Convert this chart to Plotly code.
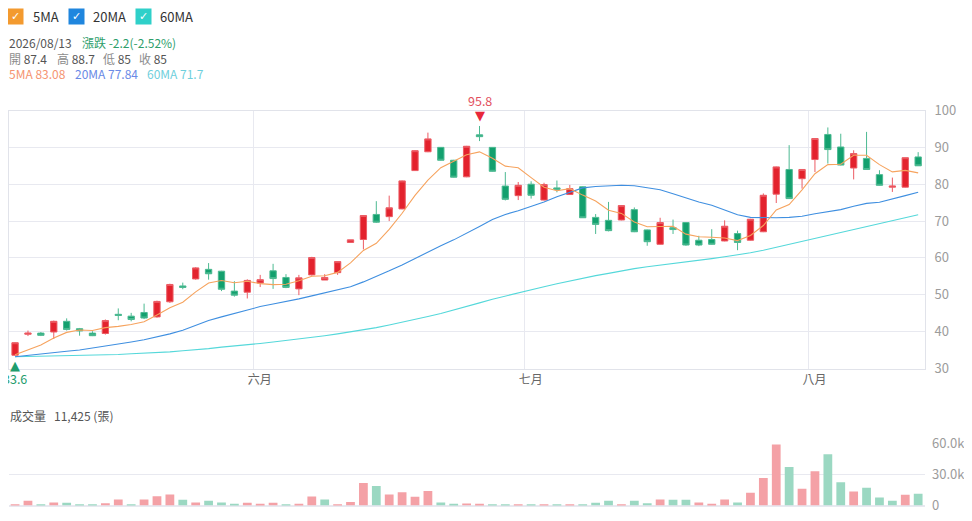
import plotly.graph_objects as go

# --- données (71 séances, dernière = 2026/08/13) ---
last_date = "2026/08/13"

open_ = [33.6, 39.3, 39.6, 39.9, 42.8, 40.8, 39.6, 39.5, 44.7, 44.2,
         45.2, 44.0, 48.1, 52.4, 54.3, 56.9, 56.4, 51.0, 50.7, 53.2,
         56.5, 54.7, 51.6, 55.4, 54.0, 56.0, 64.2, 65.0, 71.8, 71.2,
         73.3, 83.7, 88.8, 90.0, 86.5, 82.0, 93.4, 90.0, 79.5, 76.9,
         80.0, 75.7, 79.0, 77.2, 79.3, 71.0, 70.2, 70.3, 73.1, 67.6,
         63.7, 68.2, 69.6, 64.8, 65.0, 64.6, 66.6, 64.8, 67.1, 77.3,
         84.0, 81.5, 86.7, 93.5, 90.1, 84.4, 87.0, 82.6, 79.2, 79.2,
         87.4]
high = [37.1, 40.3, 39.9, 43.0, 43.6, 41.0, 40.1, 43.3, 46.3, 45.1,
        47.6, 48.4, 53.0, 53.3, 57.5, 58.6, 56.5, 53.7, 54.2, 55.4,
        58.4, 55.6, 55.4, 60.3, 55.6, 59.0, 64.9, 71.6, 75.4, 76.9,
        81.0, 89.2, 94.0, 90.1, 86.6, 90.4, 95.8, 90.1, 83.3, 80.6,
        80.8, 80.4, 81.0, 79.8, 79.4, 71.9, 75.2, 74.3, 73.7, 67.7,
        70.9, 70.4, 69.7, 66.0, 67.8, 70.2, 67.4, 70.6, 77.5, 84.8,
        90.6, 84.1, 92.5, 95.4, 93.7, 89.2, 94.2, 83.8, 81.8, 87.2,
        88.7]
low = [33.6, 38.8, 38.8, 38.0, 40.3, 38.9, 38.8, 39.2, 43.1, 42.8,
       43.4, 43.8, 47.8, 51.5, 54.1, 54.1, 51.0, 49.5, 49.0, 52.1,
       51.6, 51.8, 49.9, 55.2, 54.0, 55.4, 64.2, 62.3, 69.5, 70.0,
       73.2, 83.6, 88.7, 86.4, 81.8, 81.9, 91.7, 83.4, 75.6, 75.7,
       76.1, 75.6, 77.8, 77.1, 70.9, 66.5, 67.2, 70.2, 67.0, 63.3,
       63.6, 66.5, 63.3, 63.2, 63.6, 64.5, 62.1, 64.7, 67.0, 74.9,
       76.0, 78.8, 83.3, 85.6, 85.1, 81.3, 83.9, 79.6, 77.9, 79.1,
       85.0]
close = [37.0, 39.6, 39.0, 42.8, 40.6, 40.2, 38.9, 43.0, 44.4, 43.3,
         43.7, 48.2, 52.8, 52.0, 57.3, 55.7, 51.5, 49.9, 53.9, 54.1,
         54.4, 52.0, 54.6, 60.1, 54.7, 59.0, 64.9, 71.5, 69.7, 73.6,
         80.9, 89.1, 92.3, 86.5, 81.9, 90.3, 92.9, 83.5, 75.9, 79.7,
         77.0, 79.9, 78.6, 78.8, 70.9, 69.1, 67.4, 74.2, 67.1, 64.4,
         69.6, 67.7, 63.5, 63.5, 63.7, 68.6, 64.2, 70.5, 77.0, 84.7,
         76.1, 84.0, 92.4, 89.4, 85.2, 88.3, 84.0, 79.7, 79.5, 87.2,
         85.0]

ma5 = [33.7, 35.0, 36.4, 38.3, 39.80, 40.44, 40.30, 41.10, 41.42, 41.96,
       42.66, 44.52, 46.48, 48.00, 50.80, 53.20, 53.86, 53.28, 53.66, 53.02,
       52.76, 52.86, 53.80, 55.04, 55.16, 56.08, 58.66, 62.04, 63.96, 67.74,
       72.12, 76.96, 81.12, 84.48, 86.14, 88.02, 88.78, 87.02, 84.90, 84.46,
       81.80, 79.20, 78.22, 78.80, 77.04, 75.46, 72.96, 72.08, 69.74, 68.44,
       68.54, 68.60, 66.46, 65.74, 65.60, 65.40, 64.70, 66.10, 68.80, 73.00,
       74.50, 78.46, 82.84, 85.32, 85.42, 87.86, 87.86, 85.32, 83.34, 83.74,
       83.08]
ma20 = [33.2, 33.6, 34.0, 34.4, 34.7, 35.0, 35.5, 36.0, 36.6, 37.2,
        37.8, 38.5, 39.4, 40.4, 41.7, 43.0, 44.0, 45.0, 46.0, 46.8,
        47.5, 48.1, 48.9, 49.7, 50.6, 51.4, 52.2, 53.5, 54.9, 56.5,
        58.1, 59.9, 61.7, 63.3, 64.9, 66.6, 68.5, 70.4, 71.8, 72.8,
        73.9, 75.2, 76.6, 77.9, 79.0, 79.4, 79.6, 79.7, 79.6, 79.1,
        78.5, 77.4, 76.2, 75.2, 74.3, 73.0, 71.7, 71.0, 70.9, 70.9,
        71.0, 71.3, 72.0, 72.5, 73.1, 74.0, 74.8, 75.1, 75.9, 76.9,
        77.84]
ma60 = [33.2, 33.25, 33.3, 33.4, 33.45, 33.5, 33.6, 33.7, 33.8, 34.0,
        34.1, 34.3, 34.5, 34.8, 35.0, 35.4, 35.8, 36.1, 36.5, 36.8,
        37.2, 37.6, 38.0, 38.4, 38.9, 39.4, 39.9, 40.5, 41.1, 41.8,
        42.5, 43.3, 44.1, 44.9, 45.8, 46.8, 47.8, 48.8, 49.7, 50.6,
        51.4, 52.2, 53.0, 53.8, 54.5, 55.2, 55.8, 56.5, 57.1, 57.6,
        58.0, 58.4, 58.8, 59.3, 59.8, 60.3, 60.8, 61.4, 62.1, 62.9,
        63.7, 64.6, 65.4, 66.3, 67.1, 67.9, 68.7, 69.5, 70.2, 70.9,
        71.7]

volume = [1000, 4600, 1000, 2900, 2600, 1000, 500, 2300, 5900, 1300,
          5900, 9100, 10800, 5500, 2900, 4600, 2900, 1600, 2600, 1600,
          2600, 1300, 1600, 8800, 5900, 1300, 3300, 21800, 18900, 10800,
          13000, 8500, 14000, 2900, 1600, 2000, 1600, 1300, 1000, 700,
          700, 700, 700, 1000, 1000, 2600, 4600, 1300, 4600, 2300,
          5900, 5500, 5500, 2900, 1600, 5900, 2900, 12400, 26700, 59300,
          37500, 16300, 33300, 49900, 22500, 13700, 17300, 7800, 4600, 10400,
          11425]

# limites de mois (entre deux séances)
month_pos = [18.5, 39.5, 61.5]
month_labels = ["六月", "七月", "八月"]

# --- styles ---
OFF = 8                     # marge du <body> de la page
W, H = 972 - OFF, 521 - OFF
L, R, T, B = 1, 47, 12, 12
RED, RED_W = "#e3222d", "#ec5c64"
GREEN, GREEN_W = "#13a06e", "#4dba92"
VOL_RED = "#f4a1a6"
VOL_GREEN = "#9bd8c2"
C5, C20, C60 = "#f6a35e", "#3f8fe0", "#55d8da"
GRID = "#e8e9f0"
FONT = "Noto Sans CJK TC"

x = list(range(len(close)))


def px(v):
    # position en pixels de la fenêtre -> coordonnée paper
    return (v - OFF - L) / (W - L - R)


def py(v):
    return (H - B - (v - OFF)) / (H - T - B)


fig = go.Figure()

fig.add_trace(go.Candlestick(
    x=x, open=open_, high=high, low=low, close=close,
    increasing=dict(line=dict(color=RED_W, width=1), fillcolor=RED),
    decreasing=dict(line=dict(color=GREEN_W, width=1), fillcolor=GREEN),
    whiskerwidth=0, hoverinfo="skip", xaxis="x", yaxis="y"))

for ma, col in [(ma60, C60), (ma20, C20), (ma5, C5)]:
    fig.add_trace(go.Scatter(x=x, y=ma, mode="lines", line=dict(color=col, width=1.1),
                             hoverinfo="skip", xaxis="x", yaxis="y"))

# couleur du volume : clôture vs clôture précédente
vol_colors = []
for i in range(len(close)):
    ref = close[i - 1] if i > 0 else open_[i]
    vol_colors.append(VOL_RED if close[i] >= ref else VOL_GREEN)

fig.add_trace(go.Bar(x=x, y=volume, marker=dict(color=vol_colors, line=dict(width=0)),
                     width=0.68, hoverinfo="skip", xaxis="x2", yaxis="y2"))

xr = [-0.47, len(close) - 0.47]
fig.update_layout(
    width=W, height=H, margin=dict(l=L, r=R, t=T, b=B, autoexpand=False),
    paper_bgcolor="white", plot_bgcolor="white", showlegend=False,
    font=dict(family=FONT, color="#555"),
    xaxis=dict(domain=[0, 1], range=xr, anchor="y", tickvals=month_pos, ticktext=month_labels,
               ticklabelshift=6, showgrid=True, gridcolor=GRID, ticks="", zeroline=False,
               showline=True, mirror=True, linecolor="#e1e3ea",
               tickfont=dict(size=12, color="#666"), rangeslider=dict(visible=False)),
    yaxis=dict(domain=[py(368.5), py(110.5)], range=[30, 100], dtick=10, side="right",
               anchor="x", showgrid=True, gridcolor=GRID, ticks="", zeroline=False,
               showline=True, mirror=True, linecolor="#e1e3ea", ticklabelstandoff=6,
               tickfont=dict(size=13, color="#9c9c9c")),
    xaxis2=dict(domain=[0, 1], range=xr, anchor="y2", matches="x", showticklabels=False,
                showgrid=False, showline=False, zeroline=False),
    yaxis2=dict(domain=[py(505.5), py(443.3)], range=[0, 60500], side="right", anchor="x2",
                tickvals=[0, 30000, 60000], ticktext=["0", "30.0k", "60.0k"],
                showgrid=True, gridcolor=GRID, ticks="", zeroline=True, zerolinecolor=GRID,
                showline=False, ticklabelstandoff=6, tickfont=dict(size=13, color="#9c9c9c")),
)

ann = []


def text(xp, yp, s, color="#555", size=12, family=FONT):
    ann.append(dict(xref="paper", yref="paper", x=px(xp), y=py(yp), text=s, showarrow=False,
                    xanchor="left", yanchor="middle", font=dict(size=size, color=color, family=family)))


# cases à cocher des moyennes
for bx, tx, col, lab in [(15.3, 30.5, "#f39a2f", "5MA"), (76.3, 90.5, "#1f86de", "20MA"),
                         (143.3, 157.5, "#2fd0c9", "60MA")]:
    ann.append(dict(xref="paper", yref="paper", x=px(bx), y=py(16.2), text="✓", showarrow=False,
                    xanchor="center", yanchor="middle", bgcolor=col, width=15, height=15, borderpad=0,
                    font=dict(size=11, color="white", family="DejaVu Sans")))
    text(tx, 16.2, lab, "#333", 13)

chg = close[-1] - close[-2]
pct = chg / close[-2] * 100
text(7, 42.7, last_date, "#555")
text(80, 42.7, f"漲跌 {chg:.1f}({pct:.2f}%)", "#2e9e6b")
for xp, lab, val in [(7, "開", open_[-1]), (55, "高", high[-1]), (101, "低", low[-1]), (136.5, "收", close[-1])]:
    text(xp, 59, f"<span style='color:#8c8c8c'>{lab}</span> {val:g}", "#555")
text(7, 73.5, f"5MA {ma5[-1]:g}", "#f59470")
text(72.5, 73.5, f"20MA {ma20[-1]:g}", "#6a8ae6")
text(145, 73.5, f"60MA {ma60[-1]:g}", "#6fcfdc")
text(8, 415, "成交量", "#555")
text(51.5, 415, f"{volume[-1]:,} (張)", "#555")

# marqueurs du plus haut / plus bas
i_hi = high.index(max(high))
i_lo = low.index(min(low))
ann.append(dict(xref="x", yref="y", x=i_hi, y=high[i_hi], text="▼", showarrow=False, yanchor="bottom",
                yshift=1, font=dict(size=13, color="#e8283a", family="DejaVu Sans")))
ann.append(dict(xref="x", yref="y", x=i_hi, y=high[i_hi], text=f"{high[i_hi]:g}", showarrow=False,
                yanchor="middle", yshift=25, font=dict(size=12.5, color="#e2505e", family=FONT)))
ann.append(dict(xref="x", yref="y", x=i_lo, y=low[i_lo], text="▲", showarrow=False, yanchor="top",
                yshift=-1, font=dict(size=13, color="#1f9d6d", family="DejaVu Sans")))
ann.append(dict(xref="x", yref="y", x=i_lo, y=low[i_lo], text=f"{low[i_lo]:g}", showarrow=False,
                yanchor="middle", yshift=-23, font=dict(size=12.5, color="#1f9d6d", family=FONT)))
fig.update_layout(annotations=ann)

fig.write_html("out.html")
